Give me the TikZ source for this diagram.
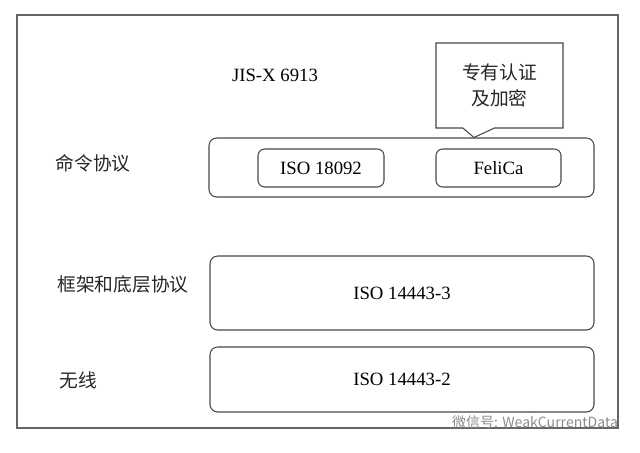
\documentclass[tikz,border=0pt]{standalone}
\usepackage{fontspec}
\setmainfont{Liberation Serif}
\newfontfamily\cjk{Noto Sans CJK SC}
\usepackage{tikz}
\usetikzlibrary{shapes.callouts}

\begin{document}
\begin{tikzpicture}[x=0.3mm,y=-0.3mm,line width=0.9pt,draw=black!72,
	box/.style={draw,rounded corners=2.3mm,inner sep=0pt,font=\fontsize{16}{19}\selectfont},
	lab/.style={font=\cjk\fontsize{16}{19}\selectfont,text=black!85}]
		\useasboundingbox (0,0) rectangle (640,452);
		% frame
		\draw[draw=black!60] (17,15) rectangle (618,428);
		%
		\node (JIS) at (275,75) {\fontsize{16}{19}\selectfont JIS-X 6913};
		\node[lab] (Cmd) at (93,163) {命令协议};
		\node[lab] (Frame) at (123,284) {框架和底层协议};
		\node[lab] (Radio) at (78,380) {无线};
		%
		\node[box,minimum width=115.5mm,minimum height=17.7mm] (CmdBox) at (401.5,167.5) {};
		\node[box,rounded corners=2mm,minimum width=37.8mm,minimum height=11.4mm] (N18092) at (321,168) {ISO 18092};
		\node[box,rounded corners=2mm,minimum width=37.5mm,minimum height=11.4mm] (FeliCa) at (498.5,168) {FeliCa};
		\node[box,minimum width=115.2mm,minimum height=22.2mm] (N3) at (402,293) {ISO 14443-3};
		\node[box,minimum width=115.2mm,minimum height=19.5mm] (N2) at (402,379.5) {ISO 14443-2};
		% callout
		\node[rectangle callout,draw,fill=white,inner sep=0pt,align=center,
			minimum width=38.1mm,minimum height=25.5mm,callout pointer width=9.5mm,
			callout absolute pointer={(CmdBox.north -| 474,0)},
			lab,font=\cjk\fontsize{16}{22}\selectfont] (Own) at (499.5,85.5) {专有认证\\及加密};
		%
		\node[font=\cjk\fontsize{12}{14}\selectfont,text=black!45] (WM) at (535,422) {微信号: WeakCurrentData};
	\end{tikzpicture}
\end{document}
